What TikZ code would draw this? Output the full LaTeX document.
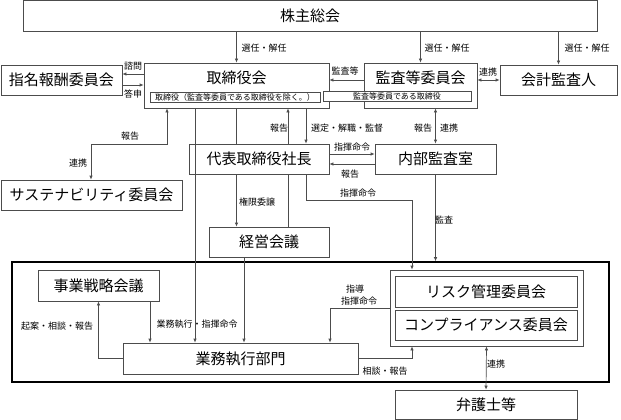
\documentclass[tikz,border=0pt]{standalone}
\usepackage{fontspec}
\setmainfont{Noto Sans CJK JP}
\usetikzlibrary{arrows.meta}
\tikzset{
  >={Latex[length=4pt,width=3.5pt]},
  box/.style={draw=black!70,line width=0.7pt,fill=white,inner sep=0pt,font=\fontsize{15}{15}\selectfont},
  title/.style={inner sep=0pt,font=\fontsize{15}{15}\selectfont},
  tag/.style={draw=black!70,line width=0.6pt,inner sep=0pt,minimum height=10,font=\fontsize{8}{8}\selectfont},
  lbl/.style={inner sep=0pt,font=\fontsize{9}{9}\selectfont},
  wire/.style={draw=black!70,line width=0.7pt},
}
\begin{document}
\begin{tikzpicture}[x=1pt,y=-1pt]
\useasboundingbox (0,0) rectangle (621,420);
\node[draw,line width=1.6pt,minimum width=597,minimum height=120] (frame) at (310.5,322) {};
\node[box,minimum width=574,minimum height=31] (kabu) at (310,15.5) {株主総会};
\node[box,minimum width=121,minimum height=30] (shimei) at (61.5,80) {指名報酬委員会};
\node[box,minimum width=185,minimum height=45] (tori) at (236.5,85.5) {};
\node[title] (toriT) at (236.5,78) {取締役会};
\node[tag,minimum width=170] (tori1) at (235,97) {取締役（監査等委員である取締役を除く。）};
\node[box,minimum width=113,minimum height=45] (kansa) at (420.5,85.5) {};
\node[title] (kansaT) at (420.5,78) {監査等委員会};
\node[tag,minimum width=148,fill=white] (kansa1) at (397,96.5) {監査等委員である取締役};
\node[box,minimum width=117,minimum height=30] (kaikei) at (558.5,80) {会計監査人};
\node[box,minimum width=140,minimum height=30] (daihyo) at (259,159) {代表取締役社長};
\node[box,minimum width=121,minimum height=30] (naibu) at (435.5,159) {内部監査室};
\node[box,minimum width=181,minimum height=30] (sustain) at (91.5,195) {サステナビリティ委員会};
\node[box,minimum width=120,minimum height=30] (keiei) at (269,242) {経営会議};
\node[box,minimum width=121,minimum height=31] (jigyo) at (98.5,285.5) {事業戦略会議};
\node[box,minimum width=235,minimum height=31] (gyomu) at (240.5,358.5) {業務執行部門};
\node[box,minimum width=193,minimum height=76] (iinkai) at (486.5,308) {};
\node[box,minimum width=182,minimum height=31] (risk) at (486,291.5) {リスク管理委員会};
\node[box,minimum width=182,minimum height=30] (compl) at (486,325) {コンプライアンス委員会};
\node[box,minimum width=182,minimum height=29] (bengo) at (486,404.5) {弁護士等};
\coordinate (shimon) at (130,74);
\coordinate (toushin) at (130,85);
\coordinate (kansatou) at (350,80);
\coordinate (houkoku) at (167,144);
\coordinate (renkei) at (91,144);
\coordinate (shiki1) at (350,154);
\coordinate (houkoku2) at (350,164);
\coordinate (gyo) at (195,200);
\coordinate (kei) at (288,200);
\coordinate (sentei) at (306,200);
\coordinate (shiki2) at (412,200);
\coordinate (kanri) at (244,300);
\coordinate (jigyoA) at (150,320);
\coordinate (shidou) at (330,320);
\foreach \n/\lx in {tori/264,kansa/447,kaikei/587} {
  \draw[wire,->] (kabu.south -| \n) -- (\n.north);
  \node[lbl] (sen\n) at (\lx,48) {選任・解任};
}
\draw[wire,->] (tori.west |- shimon) -- (shimei.east |- shimon);
\draw[wire,->] (shimei.east |- toushin) -- (tori.west |- toushin);
\node[lbl] (shimonL) at (133,66) {諮問};
\node[lbl] (toushinL) at (133,94) {答申};
\draw[wire,->] (kansa.west |- kansatou) -- (tori.east |- kansatou);
\node[lbl] (kansatouL) at (345,71) {監査等};
\draw[wire,<->] (kansa.east |- kansatou) -- (kaikei.west |- kansatou);
\node[lbl] (renkeiL1) at (488,72) {連携};
\draw[wire,<->] (tori.south -| houkoku) -- (houkoku) -- (renkei) -- (sustain.north -| renkei);
\node[lbl] (houkokuL1) at (130,136) {報告};
\node[lbl] (renkeiL2) at (78,163) {連携};
\draw[wire,->] (tori.south -| gyo) -- (gyomu.north -| gyo);
\draw[wire] (tori.south) -- (daihyo.north -| tori);
\draw[wire,->] (daihyo.south -| tori) -- (keiei.north -| tori);
\node[lbl] (kengenL) at (257,202) {権限委譲};
\draw[wire,->] (daihyo.north -| kei) -- (tori.south -| kei);
\draw[wire] (keiei.north -| kei) -- (daihyo.south -| kei);
\node[lbl] (houkokuL2) at (279,128) {報告};
\draw[wire,->] (tori.south -| sentei) -- (daihyo.north -| sentei);
\node[lbl] (senteiL) at (347,128) {選定・解職・監督};
\draw[wire,<->] (kansa.south -| naibu) -- (naibu.north);
\node[lbl] (houkokuL3) at (423,128) {報告};
\node[lbl] (renkeiL3) at (449,128) {連携};
\draw[wire,->] (daihyo.east |- shiki1) -- (naibu.west |- shiki1);
\draw[wire,->] (naibu.west |- houkoku2) -- (daihyo.east |- houkoku2);
\node[lbl] (shikiL1) at (352,147) {指揮命令};
\node[lbl] (houkokuL4) at (350,174) {報告};
\draw[wire,->] (daihyo.south -| sentei) |- (shiki2) -- (iinkai.north -| shiki2);
\node[lbl] (shikiL2) at (358,193) {指揮命令};
\draw[wire,->] (naibu.south) -- (naibu.south |- frame.north);
\node[lbl] (kansaL) at (444,220) {監査};
\draw[wire,->] (keiei.south -| kanri) -- (gyomu.north -| kanri);
\draw[wire,->] (jigyo.south -| jigyoA) -- (gyomu.north -| jigyoA);
\node[lbl] (gyomuL) at (197,324) {業務執行・指揮命令};
\draw[wire,->] (gyomu.west) -| (jigyo.south);
\node[lbl] (kianL) at (57,326) {起案・相談・報告};
\draw[wire,->] (iinkai.west) -| (gyomu.north -| shidou);
\node[lbl] (shidouL1) at (355,289) {指導};
\node[lbl] (shidouL2) at (359,301) {指揮命令};
\draw[wire,->] (gyomu.east) -| (iinkai.south -| shiki2);
\node[lbl] (soudanL) at (385,371) {相談・報告};
\draw[wire,<->] (iinkai.south) -- (bengo.north);
\node[lbl] (renkeiL4) at (496,364) {連携};
\end{tikzpicture}
\end{document}
